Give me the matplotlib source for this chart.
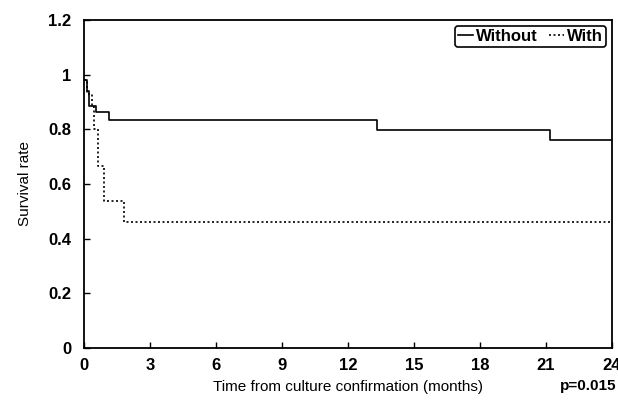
"""Kaplan-Meier style survival curves, with vs without."""

import matplotlib

matplotlib.use("Agg")
import matplotlib.pyplot as plt

plt.rcParams["font.family"] = ["Liberation Sans", "DejaVu Sans"]

# step curves: time (months) and survival right after each time point
WITHOUT_T = [0.0, 0.12, 0.24, 0.53, 1.15, 13.3, 21.2, 24.0]
WITHOUT_S = [0.98, 0.94, 0.884, 0.862, 0.834, 0.798, 0.759, 0.759]
WITH_T = [0.0, 0.15, 0.35, 0.45, 0.62, 0.91, 1.83, 24.0]
WITH_S = [0.98, 0.93, 0.88, 0.80, 0.667, 0.536, 0.46, 0.46]

X_TICKS = [0, 3, 6, 9, 12, 15, 18, 21, 24]
Y_TICKS = [0, 0.2, 0.4, 0.6, 0.8, 1.0, 1.2]
Y_LABELS = ["0", "0.2", "0.4", "0.6", "0.8", "1", "1.2"]


def main() -> None:
    fig = plt.figure(figsize=(6.18, 4.05), dpi=100)
    ax = fig.add_axes([0.136, 0.141, 0.854, 0.810])

    ax.step(WITHOUT_T, WITHOUT_S, where="post", color="black", linewidth=1.2, label="Without")
    ax.step(WITH_T, WITH_S, where="post", color="black", linewidth=1.2,
            linestyle=(0, (1.2, 1.5)), label="With")

    ax.set_xlim(0, 24)
    ax.set_ylim(0, 1.2)
    ax.set_xticks(X_TICKS)
    ax.set_yticks(Y_TICKS)
    ax.set_yticklabels(Y_LABELS)
    ax.tick_params(direction="in", length=4, width=1, labelsize=12)
    ax.tick_params(axis="y", pad=9)
    ax.tick_params(axis="x", pad=7)
    for label in ax.get_xticklabels() + ax.get_yticklabels():
        label.set_fontweight("bold")
    for spine in ax.spines.values():
        spine.set_linewidth(1.3)

    ax.set_xlabel("Time from culture confirmation (months)", fontsize=11, labelpad=5)
    ax.set_ylabel("Survival rate", fontsize=11, labelpad=12)
    fig.text(0.997, 0.03, "p=0.015", ha="right", va="bottom", fontsize=11, fontweight="bold")

    leg = ax.legend(loc="upper right", ncol=2, frameon=True, fancybox=True,
                    handlelength=0.9, handletextpad=0.15, columnspacing=0.7,
                    borderpad=0.2, borderaxespad=0.35,
                    prop={"weight": "bold", "size": 12})
    leg.get_frame().set_edgecolor("black")
    leg.get_frame().set_linewidth(1.2)
    leg.get_frame().set_alpha(1)

    fig.savefig("out.png", dpi=100)
    plt.close(fig)


if __name__ == "__main__":
    main()
